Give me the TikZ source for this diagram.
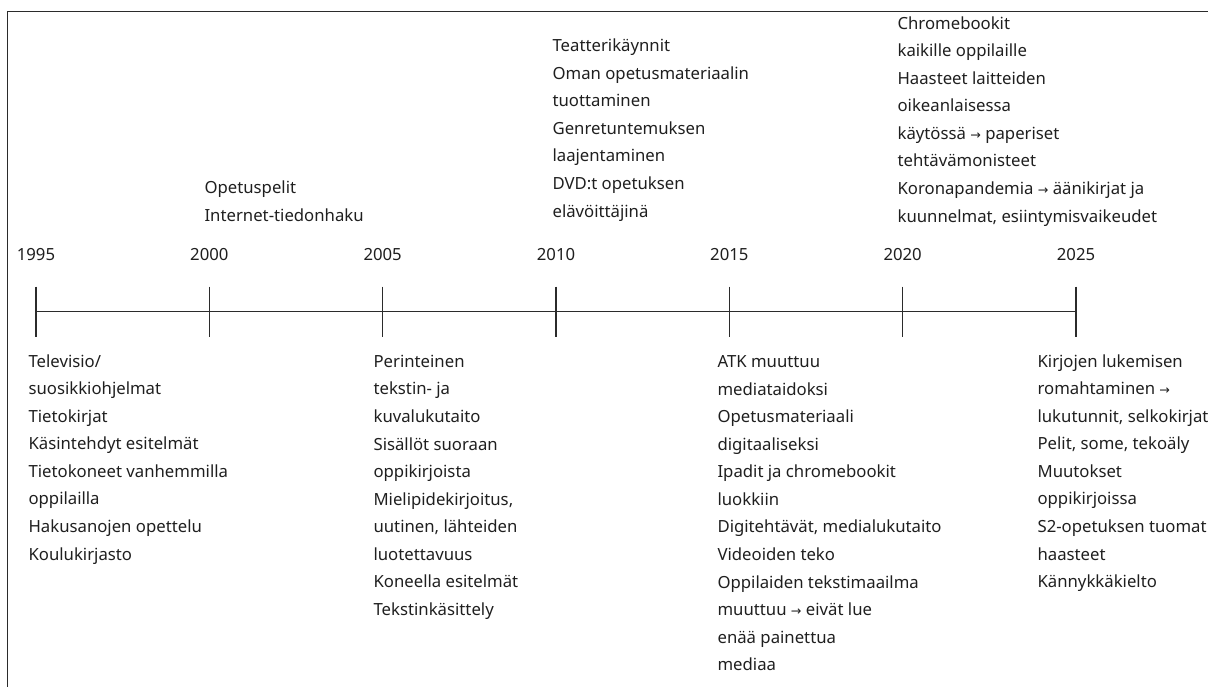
\documentclass[tikz,border=0pt]{standalone}
\usepackage{fontspec}
\setmainfont{Noto Sans}
\newfontfamily\arrowfont{DejaVu Sans}
\usetikzlibrary{calc}
\definecolor{cink}{HTML}{1F1F1F}
\definecolor{cline}{HTML}{2B2B2B}
\newcommand{\toarrow}{{\arrowfont\fontsize{9}{19.6}\selectfont →}}
\tikzset{
  every picture/.style={line width=0.8pt},
  frame/.style={draw=cline, line width=1.1pt},
  axis/.style={draw=cline, line width=0.8pt},
  year/.style={font=\fontsize{11.9}{14}\selectfont, text=cink, anchor=base, inner sep=0pt},
  events/.style={font=\fontsize{11.9}{19.6}\selectfont, text=cink, align=left, anchor=base west, inner sep=0pt},
}

\begin{document}
\begin{tikzpicture}
  \useasboundingbox (0,0) rectangle (30.2,-17.175);
  % frame
  \coordinate (fr) at (30.2,-0.2875);
  \coordinate (fc) at (0.1875,-0.2875);
  \coordinate (fb) at (0.1875,-17.175);
  \draw[frame] (fr) -- (fc) -- (fb);
  % time axis
  \foreach \yr [count=\i from 0] in {1995,2000,2005,2010,2015,2020,2025} {
    \coordinate (t\yr) at (0.9+4.3333*\i,-7.7875);
    \coordinate (u\yr) at (0.9+4.3333*\i,-7.1625);
    \coordinate (d\yr) at (0.9+4.3333*\i,-8.4125);
    \draw[axis] (u\yr) -- (d\yr);
    \node[year] (y\yr) at (0.9+4.3333*\i,-6.5) {\yr};
  }
  \draw[axis] (t1995) -- (t2025);
  % above the axis (anchored at the last line)
  \node[events] (e2000) at (5.1,-5.525) {Opetuspelit\\Internet-tiedonhaku};
  \node[events] (e2010) at (13.8,-5.425) {Teatterikäynnit\\Oman opetusmateriaalin\\tuottaminen\\Genretuntemuksen\\laajentaminen\\DVD:t opetuksen\\elävöittäjinä};
  \node[events] (e2020) at (22.425,-5.55) {Chromebookit\\kaikille oppilaille\\Haasteet laitteiden\\oikeanlaisessa\\käytössä \toarrow{} paperiset\\tehtävämonisteet\\Koronapandemia \toarrow{} äänikirjat ja\\kuunnelmat, esiintymisvaikeudet};
  % below the axis (anchored at the last line)
  \node[events] (e1995) at (0.7,-14.0) {Televisio/\\suosikkiohjelmat\\Tietokirjat\\Käsintehdyt esitelmät\\Tietokoneet vanhemmilla\\oppilailla\\Hakusanojen opettelu\\Koulukirjasto};
  \node[events] (e2005) at (9.325,-15.383) {Perinteinen\\tekstin- ja\\kuvalukutaito\\Sisällöt suoraan\\oppikirjoista\\Mielipidekirjoitus,\\uutinen, lähteiden\\luotettavuus\\Koneella esitelmät\\Tekstinkäsittely};
  \node[events] (e2015) at (17.925,-16.768) {ATK muuttuu\\mediataidoksi\\Opetusmateriaali\\digitaaliseksi\\Ipadit ja chromebookit\\luokkiin\\Digitehtävät, medialukutaito\\Videoiden teko\\Oppilaiden tekstimaailma\\muuttuu \toarrow{} eivät lue\\enää painettua\\mediaa};
  \node[events] (e2025) at (25.925,-14.69) {Kirjojen lukemisen\\romahtaminen \toarrow\\lukutunnit, selkokirjat\\Pelit, some, tekoäly\\Muutokset\\oppikirjoissa\\S2-opetuksen tuomat\\haasteet\\Kännykkäkielto};
\end{tikzpicture}
\end{document}
